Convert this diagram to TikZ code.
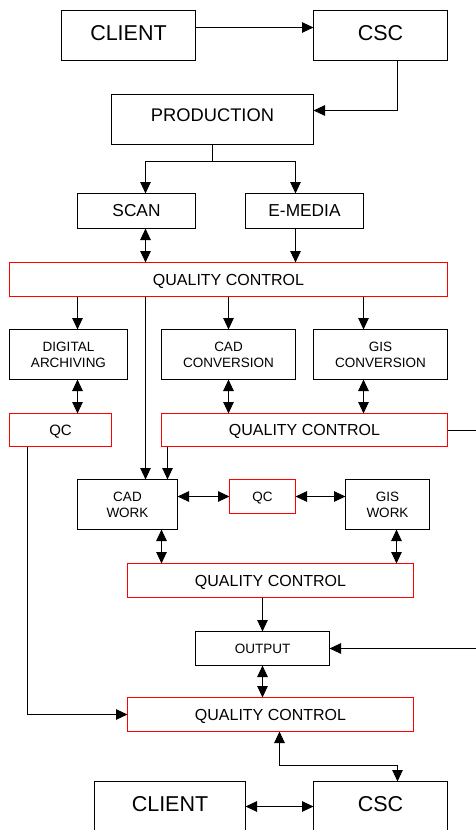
\documentclass[tikz,border=0pt]{standalone}
\usepackage{fontspec}
\setmainfont{Liberation Sans}
\usetikzlibrary{arrows.meta}
\begin{document}
\begin{tikzpicture}[x=1pt,y=-1pt,
  box/.style={draw=black, line width=1pt, rectangle, inner sep=0pt, outer sep=0pt, align=center, text=black},
  redbox/.style={box, draw=red, line width=1.2pt},
  bigtxt/.style={font=\fontsize{21.5}{24}\selectfont, text depth=6pt},
  prodtxt/.style={font=\fontsize{18.3}{21}\selectfont, text depth=9pt},
  midtxt/.style={font=\fontsize{17.3}{20}\selectfont},
  qctxt/.style={font=\fontsize{16}{19}\selectfont, text depth=0pt},
  qcsmall/.style={font=\fontsize{15}{18}\selectfont, text depth=0pt},
  smalltxt/.style={font=\fontsize{13.5}{16}\selectfont},
  tip/.tip={Triangle[length=11.5pt,width=10.5pt]},
  arr/.style={line width=1pt, -tip},
  darr/.style={line width=1pt, tip-tip},
  ln/.style={line width=1pt}
]
\useasboundingbox (-0.5,-0.5) rectangle (475.5,829.5);
% boxes
\node[box, bigtxt, minimum width=134pt, minimum height=50pt] (client1) at (128,35) {CLIENT};
\node[box, bigtxt, minimum width=134pt, minimum height=50pt] (csc1) at (380,35) {CSC};
\node[box, prodtxt, minimum width=202pt, minimum height=50pt] (prod) at (212,119) {PRODUCTION};
\node[box, midtxt, minimum width=118pt, minimum height=35pt] (scan) at (136,210.5) {SCAN};
\node[box, midtxt, minimum width=118pt, minimum height=35pt] (emedia) at (304,210.5) {E-MEDIA};
\node[redbox, qctxt, minimum width=438pt, minimum height=34pt] (qc1) at (228,279) {QUALITY CONTROL};
\node[box, smalltxt, minimum width=118pt, minimum height=50pt] (da) at (68,354) {DIGITAL\\ARCHIVING};
\node[box, smalltxt, minimum width=134pt, minimum height=50pt] (cadconv) at (228,354) {CAD\\CONVERSION};
\node[box, smalltxt, minimum width=134pt, minimum height=50pt] (gisconv) at (380,354) {GIS\\CONVERSION};
\node[redbox, qcsmall, minimum width=102pt, minimum height=33pt] (qca) at (60,429.5) {QC};
\node[redbox, qctxt, minimum width=286pt, minimum height=33pt] (qc2) at (304,429.5) {QUALITY CONTROL};
\node[box, smalltxt, minimum width=100pt, minimum height=50pt] (cadwork) at (127,504) {CAD\\WORK};
\node[redbox, smalltxt, text depth=0pt, minimum width=66pt, minimum height=34pt] (qcb) at (262,496) {QC};
\node[box, smalltxt, minimum width=84pt, minimum height=50pt] (giswork) at (387,504) {GIS\\WORK};
\node[redbox, qctxt, minimum width=286pt, minimum height=34pt] (qc3) at (270,580) {QUALITY CONTROL};
\node[box, smalltxt, minimum width=134pt, minimum height=34pt] (output) at (262,648) {OUTPUT};
\node[redbox, qctxt, minimum width=286pt, minimum height=34pt] (qc4) at (270,714) {QUALITY CONTROL};
\node[box, bigtxt, minimum width=151pt, minimum height=50pt] (client2) at (169.5,806) {CLIENT};
\node[box, bigtxt, minimum width=134pt, minimum height=50pt] (csc2) at (380,806) {CSC};
% helper coordinates
\coordinate (s1) at ([xshift=9pt]scan.south);
\coordinate (e1) at ([xshift=-9pt]emedia.south);
\coordinate (d1) at ([xshift=9pt]da.north);
\coordinate (g1) at ([xshift=-17pt]gisconv.north);
\coordinate (cw1) at ([xshift=18pt]cadwork.north);
\coordinate (cw2) at ([xshift=40pt]cadwork.north);
\coordinate (cw3) at ([xshift=34pt]cadwork.south);
\coordinate (gw1) at ([xshift=9pt]giswork.south);
\coordinate (q1) at ([xshift=-33pt]qca.south);
\coordinate (q4) at ([xshift=9pt]qc4.south);
\coordinate (c2) at ([xshift=17pt]csc2.north);
\coordinate (rt) at (480,0);
% connectors
\draw[arr] ([yshift=8pt]client1.east) -- ([yshift=8pt]csc1.west);
\draw[arr] ([xshift=17pt]csc1.south) |- ([yshift=9pt]prod.east);
\draw[arr] (prod.south) -- ++(0,17) -| ([xshift=9pt]scan.north);
\draw[arr] (prod.south) -- ++(0,17) -| ([xshift=-9pt]emedia.north);
\draw[darr] (s1) -- (s1 |- qc1.north);
\draw[arr] (e1) -- (e1 |- qc1.north);
\draw[arr] (d1 |- qc1.south) -- (d1);
\draw[arr] (cadconv.north |- qc1.south) -- (cadconv.north);
\draw[arr] (g1 |- qc1.south) -- (g1);
\draw[arr] (cw1 |- qc1.south) -- (cw1);
\draw[arr] (cw2 |- qc2.south) -- (cw2);
\draw[darr] (d1 |- da.south) -- (d1 |- qca.north);
\draw[darr] (cadconv.south) -- (cadconv.south |- qc2.north);
\draw[darr] (g1 |- gisconv.south) -- (g1 |- qc2.north);
\draw[arr] (qc2.east) -- (qc2.east -| rt) |- (output.east);
\draw[arr] (q1) |- (qc4.west);
\draw[darr] (qcb.west -| cadwork.east) -- (qcb.west);
\draw[darr] (qcb.east) -- (qcb.east -| giswork.west);
\draw[darr] (cw3) -- (cw3 |- qc3.north);
\draw[darr] (gw1) -- (gw1 |- qc3.north);
\draw[arr] (output.north |- qc3.south) -- (output.north);
\draw[darr] (output.south) -- (output.south |- qc4.north);
\draw[darr] (q4) -- ++(0,34) -| (c2);
\draw[darr] (client2.east) -- (client2.east -| csc2.west);
\end{tikzpicture}
\end{document}
